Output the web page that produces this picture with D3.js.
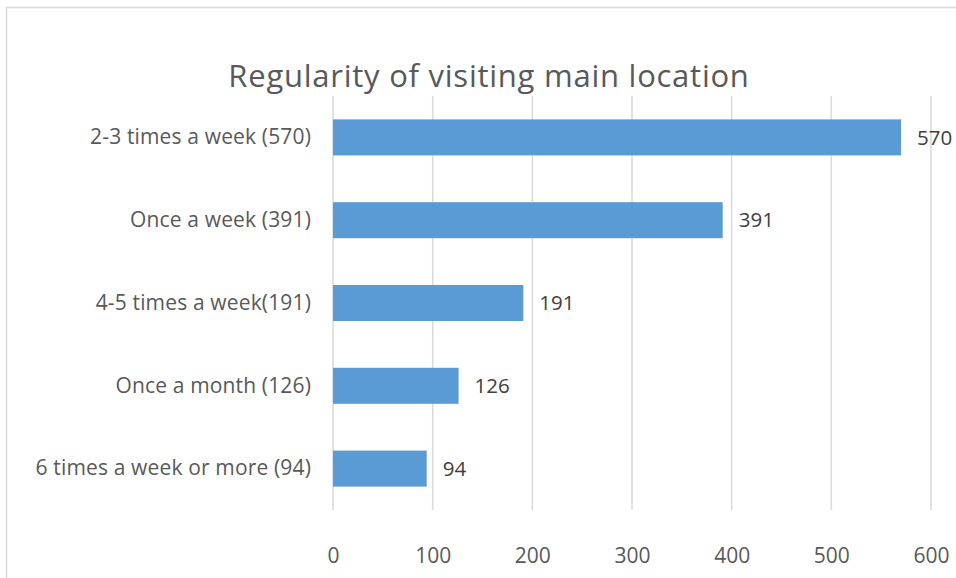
<!DOCTYPE html>
<html><head><meta charset="utf-8">
<script src="https://cdn.jsdelivr.net/npm/d3@7"></script>
<style>body{margin:0;background:#fff}svg{display:block}</style>
</head><body>
<script>
const categories = ["2-3 times a week (570)","Once a week (391)","4-5 times a week(191)","Once a month (126)","6 times a week or more (94)"];
const values = [570,391,191,126,94];
const ticks = [0,100,200,300,400,500,600];
const title = "Regularity of visiting main location";

const W=956,H=578;
const svg=d3.select("body").append("svg").attr("width",W).attr("height",H);
const font="'Open Sans', 'Noto Sans', sans-serif";
svg.append("rect").attr("x",6.5).attr("y",7.5).attr("width",W+20).attr("height",H+20)
  .attr("fill","#fff").attr("stroke","#d9d9d9").attr("stroke-width",1.5);

const x=d3.scaleLinear().domain([0,600]).range([333,931]);
const y=d3.scaleBand().domain(categories).range([96,510]).paddingInner(0.565).paddingOuter(0.2825);

svg.append("g").selectAll("line").data(ticks).join("line")
  .attr("x1",d=>x(d)).attr("x2",d=>x(d)).attr("y1",96).attr("y2",510)
  .attr("stroke","#d9d9d9").attr("stroke-width",1.5);

svg.append("g").selectAll("rect").data(values).join("rect")
  .attr("x",x(0)).attr("y",(d,i)=>y(categories[i])).attr("height",y.bandwidth())
  .attr("width",d=>x(d)-x(0)).attr("fill","#5b9bd5");

svg.append("g").selectAll("text").data(values).join("text")
  .attr("x",d=>x(d)+16).attr("y",(d,i)=>y(categories[i])+y.bandwidth()/2)
  .attr("dy","0.35em").attr("font-family",font).attr("font-size",20.5).attr("fill","#404040")
  .text(d=>d);

const ya=svg.append("g").attr("transform","translate(333,0)")
  .call(d3.axisLeft(y).tickSize(0).tickPadding(22));
ya.select(".domain").remove();
ya.selectAll("text").attr("font-family",font).attr("font-size",21).attr("letter-spacing",0.15).attr("fill","#595959");

const xa=svg.append("g").attr("transform","translate(0,510)")
  .call(d3.axisBottom(x).tickValues(ticks).tickSize(0).tickPadding(38));
xa.select(".domain").remove();
xa.selectAll("text").attr("font-family",font).attr("font-size",21).attr("fill","#595959");

svg.append("text").attr("x",489).attr("y",87).attr("text-anchor","middle")
  .attr("font-family",font).attr("font-size",31).attr("letter-spacing",0.75).attr("fill","#595959").text(title);
</script>
</body></html>
